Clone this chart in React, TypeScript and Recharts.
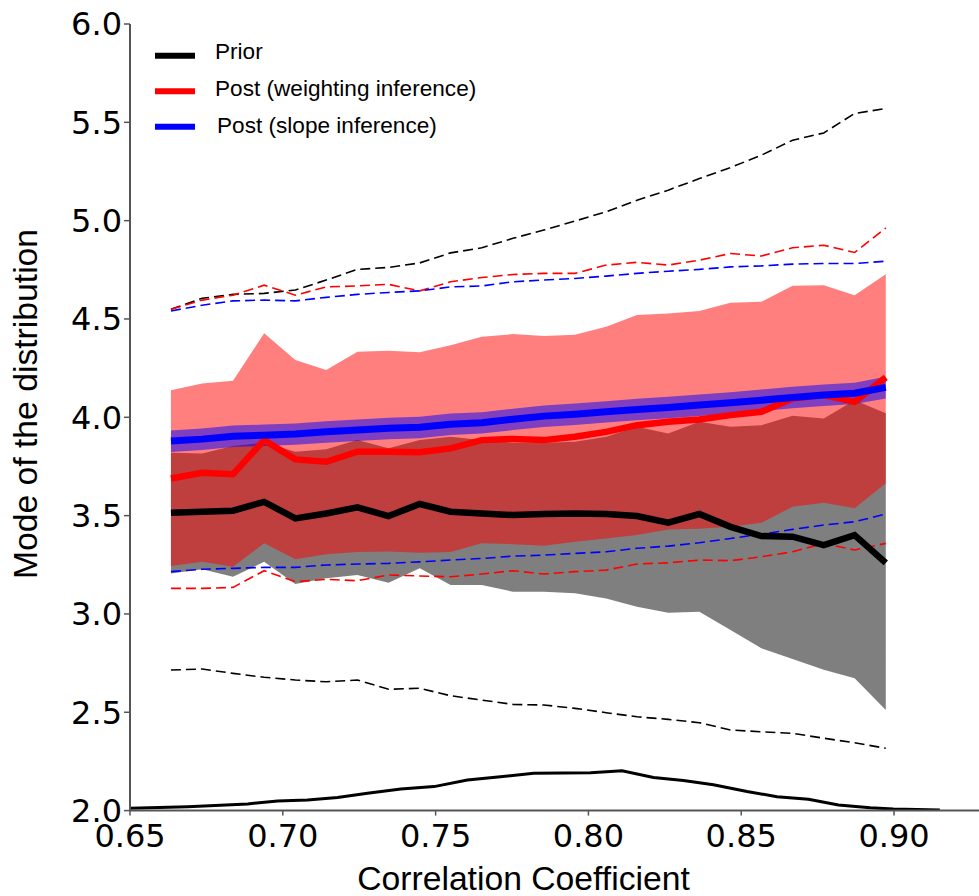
import React from 'react';
import { ComposedChart, Area, Line, XAxis, YAxis } from 'recharts';

// x positions (correlation coefficient) of the 24 simulated conditions
const xs = [0.6634, 0.6736, 0.6837, 0.6939, 0.7041, 0.7142, 0.7244, 0.7346, 0.7448, 0.7549, 0.7651, 0.7753,
  0.7854, 0.7956, 0.8058, 0.8159, 0.8261, 0.8363, 0.8465, 0.8566, 0.8668, 0.877, 0.8871, 0.8973];

const priorMean = [3.515, 3.52, 3.525, 3.57, 3.486, 3.511, 3.542, 3.498, 3.559, 3.52, 3.511, 3.503,
  3.508, 3.511, 3.508, 3.498, 3.464, 3.508, 3.443, 3.396, 3.393, 3.35, 3.401, 3.26];
const priorLo = [3.206, 3.227, 3.189, 3.265, 3.152, 3.181, 3.198, 3.159, 3.232, 3.147, 3.147, 3.113,
  3.113, 3.105, 3.079, 3.037, 3.006, 3.011, 2.918, 2.825, 2.771, 2.716, 2.673, 2.511];
const priorHi = [3.82, 3.816, 3.854, 3.871, 3.825, 3.837, 3.884, 3.842, 3.884, 3.901, 3.884, 3.871,
  3.871, 3.876, 3.901, 3.952, 3.918, 3.977, 3.952, 3.96, 4.008, 3.994, 4.087, 4.02];
const priorDashUp = [4.549, 4.605, 4.625, 4.63, 4.647, 4.698, 4.752, 4.762, 4.785, 4.836, 4.862, 4.91,
  4.952, 4.998, 5.045, 5.104, 5.155, 5.214, 5.27, 5.333, 5.409, 5.446, 5.545, 5.57];
const priorDashLo = [2.715, 2.72, 2.698, 2.678, 2.664, 2.655, 2.664, 2.617, 2.622, 2.584, 2.562, 2.54,
  2.537, 2.52, 2.498, 2.477, 2.464, 2.447, 2.41, 2.401, 2.393, 2.368, 2.345, 2.317];

const weightMean = [3.689, 3.718, 3.711, 3.884, 3.786, 3.774, 3.825, 3.825, 3.822, 3.842, 3.884, 3.89,
  3.884, 3.901, 3.926, 3.96, 3.977, 3.989, 4.011, 4.028, 4.096, 4.113, 4.079, 4.203];
const weightLo = [3.244, 3.265, 3.24, 3.359, 3.278, 3.303, 3.315, 3.317, 3.311, 3.315, 3.359, 3.355,
  3.347, 3.367, 3.384, 3.401, 3.43, 3.433, 3.443, 3.464, 3.545, 3.565, 3.537, 3.664];
const weightHi = [4.138, 4.172, 4.186, 4.427, 4.291, 4.24, 4.333, 4.338, 4.331, 4.367, 4.409, 4.423,
  4.413, 4.42, 4.46, 4.52, 4.528, 4.54, 4.582, 4.587, 4.669, 4.672, 4.621, 4.728];
const weightDashUp = [4.549, 4.596, 4.621, 4.672, 4.621, 4.663, 4.668, 4.676, 4.643, 4.689, 4.711, 4.726,
  4.732, 4.732, 4.774, 4.788, 4.774, 4.799, 4.833, 4.82, 4.862, 4.875, 4.838, 4.963];
const weightDashLo = [3.13, 3.13, 3.135, 3.22, 3.164, 3.176, 3.169, 3.198, 3.193, 3.189, 3.203, 3.22,
  3.203, 3.215, 3.223, 3.254, 3.26, 3.274, 3.271, 3.291, 3.316, 3.359, 3.325, 3.359];

const slopeMean = [3.879, 3.889, 3.904, 3.909, 3.915, 3.926, 3.935, 3.944, 3.949, 3.965, 3.972, 3.99,
  4.006, 4.016, 4.028, 4.04, 4.05, 4.062, 4.074, 4.087, 4.101, 4.113, 4.122, 4.152];
const slopeLo = [3.824, 3.834, 3.849, 3.854, 3.86, 3.871, 3.88, 3.889, 3.894, 3.91, 3.917, 3.935,
  3.951, 3.961, 3.973, 3.985, 3.995, 4.007, 4.019, 4.032, 4.046, 4.058, 4.067, 4.096];
const slopeHi = [3.933, 3.943, 3.958, 3.963, 3.969, 3.98, 3.989, 3.998, 4.003, 4.019, 4.026, 4.044,
  4.06, 4.07, 4.082, 4.094, 4.104, 4.116, 4.128, 4.141, 4.155, 4.167, 4.176, 4.206];
const slopeDashUp = [4.541, 4.57, 4.592, 4.596, 4.592, 4.61, 4.625, 4.635, 4.643, 4.663, 4.668, 4.689,
  4.698, 4.706, 4.718, 4.732, 4.743, 4.752, 4.765, 4.77, 4.779, 4.782, 4.782, 4.794];
const slopeDashLo = [3.215, 3.227, 3.232, 3.237, 3.237, 3.249, 3.254, 3.257, 3.265, 3.274, 3.282, 3.294,
  3.299, 3.308, 3.316, 3.334, 3.345, 3.362, 3.384, 3.406, 3.43, 3.452, 3.469, 3.508];

// distribution of correlation coefficients (drawn along the bottom)
const densX = [0.65, 0.6689, 0.6885, 0.6983, 0.7081, 0.7179, 0.7277, 0.7386, 0.7495, 0.7604, 0.7712, 0.7821,
  0.8007, 0.811, 0.8213, 0.8311, 0.8409, 0.8519, 0.8617, 0.872, 0.8818, 0.8922, 0.8998, 0.915];
const densY = [2.012, 2.02, 2.034, 2.049, 2.054, 2.067, 2.088, 2.11, 2.122, 2.156, 2.172, 2.19,
  2.193, 2.202, 2.168, 2.153, 2.131, 2.097, 2.071, 2.058, 2.029, 2.015, 2.008, 2.003];

const xTicks = [0.65, 0.7, 0.75, 0.8, 0.85, 0.9];
const yTicks = [2.0, 2.5, 3.0, 3.5, 4.0, 4.5, 5.0, 5.5, 6.0];

const legendItems = [
  { label: 'Prior', color: '#000000' },
  { label: 'Post (weighting inference)', color: '#ff0000' },
  { label: 'Post (slope inference)', color: '#0000ff' },
];

const rows = xs.map((x, i) => ({
  x,
  priorMean: priorMean[i], priorLo: priorLo[i], priorHi: priorHi[i],
  priorDashUp: priorDashUp[i], priorDashLo: priorDashLo[i],
  weightMean: weightMean[i], weightLo: weightLo[i], weightHi: weightHi[i],
  weightDashUp: weightDashUp[i], weightDashLo: weightDashLo[i],
  slopeMean: slopeMean[i], slopeLo: slopeLo[i], slopeHi: slopeHi[i],
  slopeDashUp: slopeDashUp[i], slopeDashLo: slopeDashLo[i],
}));
const densRows = densX.map((x, i) => ({ x, dens: densY[i] }));

const DASH = '10 5';

export default function App() {
  const axisStroke = '#555555';
  const tickFont = { fontFamily: 'DejaVu Sans', fontSize: 32, fill: '#000000' };
  return (
    <div style={{ position: 'absolute', left: 0, top: 0, width: 979, height: 896, background: '#ffffff', overflow: 'hidden' }}>
      <ComposedChart width={979} height={896} data={rows} margin={{ top: 24, right: 0, bottom: 5.4, left: 0 }}>
        <XAxis type="number" dataKey="x" domain={[0.65, 0.9278]} ticks={xTicks} allowDataOverflow
          tickFormatter={(v: number) => v.toFixed(2)} height={80}
          axisLine={{ stroke: axisStroke, strokeWidth: 2 }} tickLine={{ stroke: axisStroke, strokeWidth: 1.5 }}
          tickSize={5} tickMargin={9} tick={tickFont} />
        <YAxis type="number" domain={[2, 6]} ticks={yTicks} allowDataOverflow
          tickFormatter={(v: number) => v.toFixed(1)} width={130}
          axisLine={{ stroke: axisStroke, strokeWidth: 2 }} tickLine={{ stroke: axisStroke, strokeWidth: 1.5 }}
          tickSize={6} tickMargin={2} tick={tickFont} />

        <Area type="linear" dataKey={(d: any) => [d.priorLo, d.priorHi]} fill="#000000" fillOpacity={0.5}
          stroke="none" dot={false} activeDot={false} isAnimationActive={false} />
        <Area type="linear" dataKey={(d: any) => [d.weightLo, d.weightHi]} fill="#ff0000" fillOpacity={0.5}
          stroke="none" dot={false} activeDot={false} isAnimationActive={false} />
        <Area type="linear" dataKey={(d: any) => [d.slopeLo, d.slopeHi]} fill="#0000ff" fillOpacity={0.5}
          stroke="none" dot={false} activeDot={false} isAnimationActive={false} />

        <Line type="linear" dataKey="priorDashUp" stroke="#000000" strokeWidth={1.6} strokeDasharray={DASH} dot={false} activeDot={false} isAnimationActive={false} />
        <Line type="linear" dataKey="priorDashLo" stroke="#000000" strokeWidth={1.6} strokeDasharray={DASH} dot={false} activeDot={false} isAnimationActive={false} />
        <Line type="linear" dataKey="weightDashUp" stroke="#ff0000" strokeWidth={1.6} strokeDasharray={DASH} dot={false} activeDot={false} isAnimationActive={false} />
        <Line type="linear" dataKey="weightDashLo" stroke="#ff0000" strokeWidth={1.6} strokeDasharray={DASH} dot={false} activeDot={false} isAnimationActive={false} />
        <Line type="linear" dataKey="slopeDashUp" stroke="#0000ff" strokeWidth={1.6} strokeDasharray={DASH} dot={false} activeDot={false} isAnimationActive={false} />
        <Line type="linear" dataKey="slopeDashLo" stroke="#0000ff" strokeWidth={1.6} strokeDasharray={DASH} dot={false} activeDot={false} isAnimationActive={false} />

        <Line type="linear" dataKey="priorMean" stroke="#000000" strokeWidth={6.5} dot={false} activeDot={false} isAnimationActive={false} />
        <Line type="linear" dataKey="weightMean" stroke="#ff0000" strokeWidth={6.5} dot={false} activeDot={false} isAnimationActive={false} />
        <Line type="linear" dataKey="slopeMean" stroke="#0000ff" strokeWidth={7} dot={false} activeDot={false} isAnimationActive={false} />

        <Line type="linear" data={densRows} dataKey="dens" stroke="#000000" strokeWidth={3} dot={false} activeDot={false} isAnimationActive={false} />
      </ComposedChart>

      <svg width={979} height={896} style={{ position: 'absolute', left: 0, top: 0, pointerEvents: 'none' }}>
        {legendItems.map((it, i) => (
          <g key={it.label}>
            <line x1={155} x2={195} y1={55.7 + i * 35.5} y2={55.7 + i * 35.5} stroke={it.color} strokeWidth={6} />
            <text x={215 + (i === 2 ? 2 : 0)} y={58.5 + i * 37} fontFamily="Liberation Sans" fontSize={22.6} fill="#000000">{it.label}</text>
          </g>
        ))}
        <text x={523.5} y={890} textAnchor="middle" fontFamily="Liberation Sans" fontSize={33.7} fill="#000000">Correlation Coefficient</text>
        <text x={37} y={404} textAnchor="middle" transform="rotate(-90, 37, 404)" fontFamily="Liberation Sans" fontSize={33.7} fill="#000000">Mode of the distribution</text>
      </svg>
    </div>
  );
}
